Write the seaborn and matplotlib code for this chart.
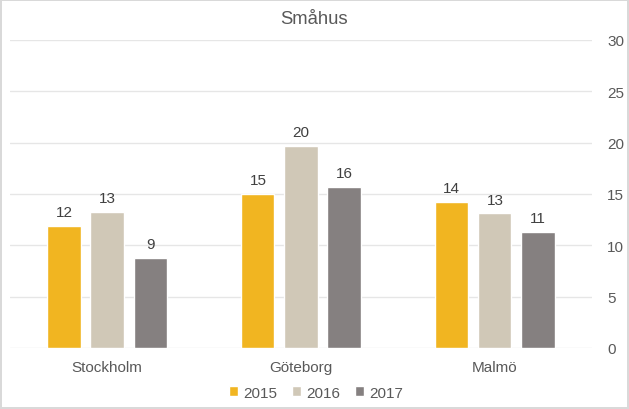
import pandas as pd
import matplotlib.pyplot as plt
import seaborn as sns

# data
cities = ['Stockholm', 'Göteborg', 'Malmö']
years = ['2015', '2016', '2017']
v2015 = [11.9, 15.0, 14.25]
v2016 = [13.2, 19.7, 13.1]
v2017 = [8.75, 15.7, 11.3]
colors = ['#F1B521', '#D0C8B7', '#858080']

df = pd.DataFrame({
    'stad': cities * 3,
    'ar': [y for y in years for _ in cities],
    'varde': v2015 + v2016 + v2017,
})

sns.set_style('white')
plt.rcParams['font.family'] = ['Liberation Sans', 'DejaVu Sans']
txt = '#595959'

fig = plt.figure(figsize=(6.29, 4.10), dpi=100)
fig.patch.set_edgecolor('#D9D9D9')
fig.patch.set_linewidth(1.5)
ax = fig.add_axes([0.016, 0.149, 0.925, 0.751])

sns.barplot(data=df, x='stad', y='varde', hue='ar', palette=colors,
            saturation=1, width=0.666, gap=0.23, ax=ax, legend=True)

for c in ax.containers:
    ax.bar_label(c, labels=[f'{v:.0f}' for v in c.datavalues], padding=5,
                 fontsize=11, color='#404040')

ax.set_ylim(0, 30)
ax.set_xlim(-0.5, 2.5)
ax.set_yticks(range(0, 31, 5))
ax.yaxis.tick_right()
ax.grid(axis='y', color='#E6E6E6', linewidth=1)
ax.set_axisbelow(True)
for s in ax.spines.values():
    s.set_visible(False)
ax.tick_params(axis='both', length=0, labelsize=11, labelcolor=txt)
ax.tick_params(axis='y', pad=11)
ax.tick_params(axis='x', pad=9)
ax.set_xlabel('')
ax.set_ylabel('')

# title is centred over the whole figure, not the plot area
fig.text(0.5, 1 - 24 / 410, 'Småhus', fontsize=13.3, color=txt,
         ha='center', va='baseline')

ax.legend(loc='center', bbox_to_anchor=(0.526, -0.145), ncol=3, frameon=False,
          fontsize=11, handlelength=0.6, handleheight=0.6, handletextpad=0.3,
          columnspacing=1.0, labelcolor=txt)

fig.savefig('out.png', dpi=100)
